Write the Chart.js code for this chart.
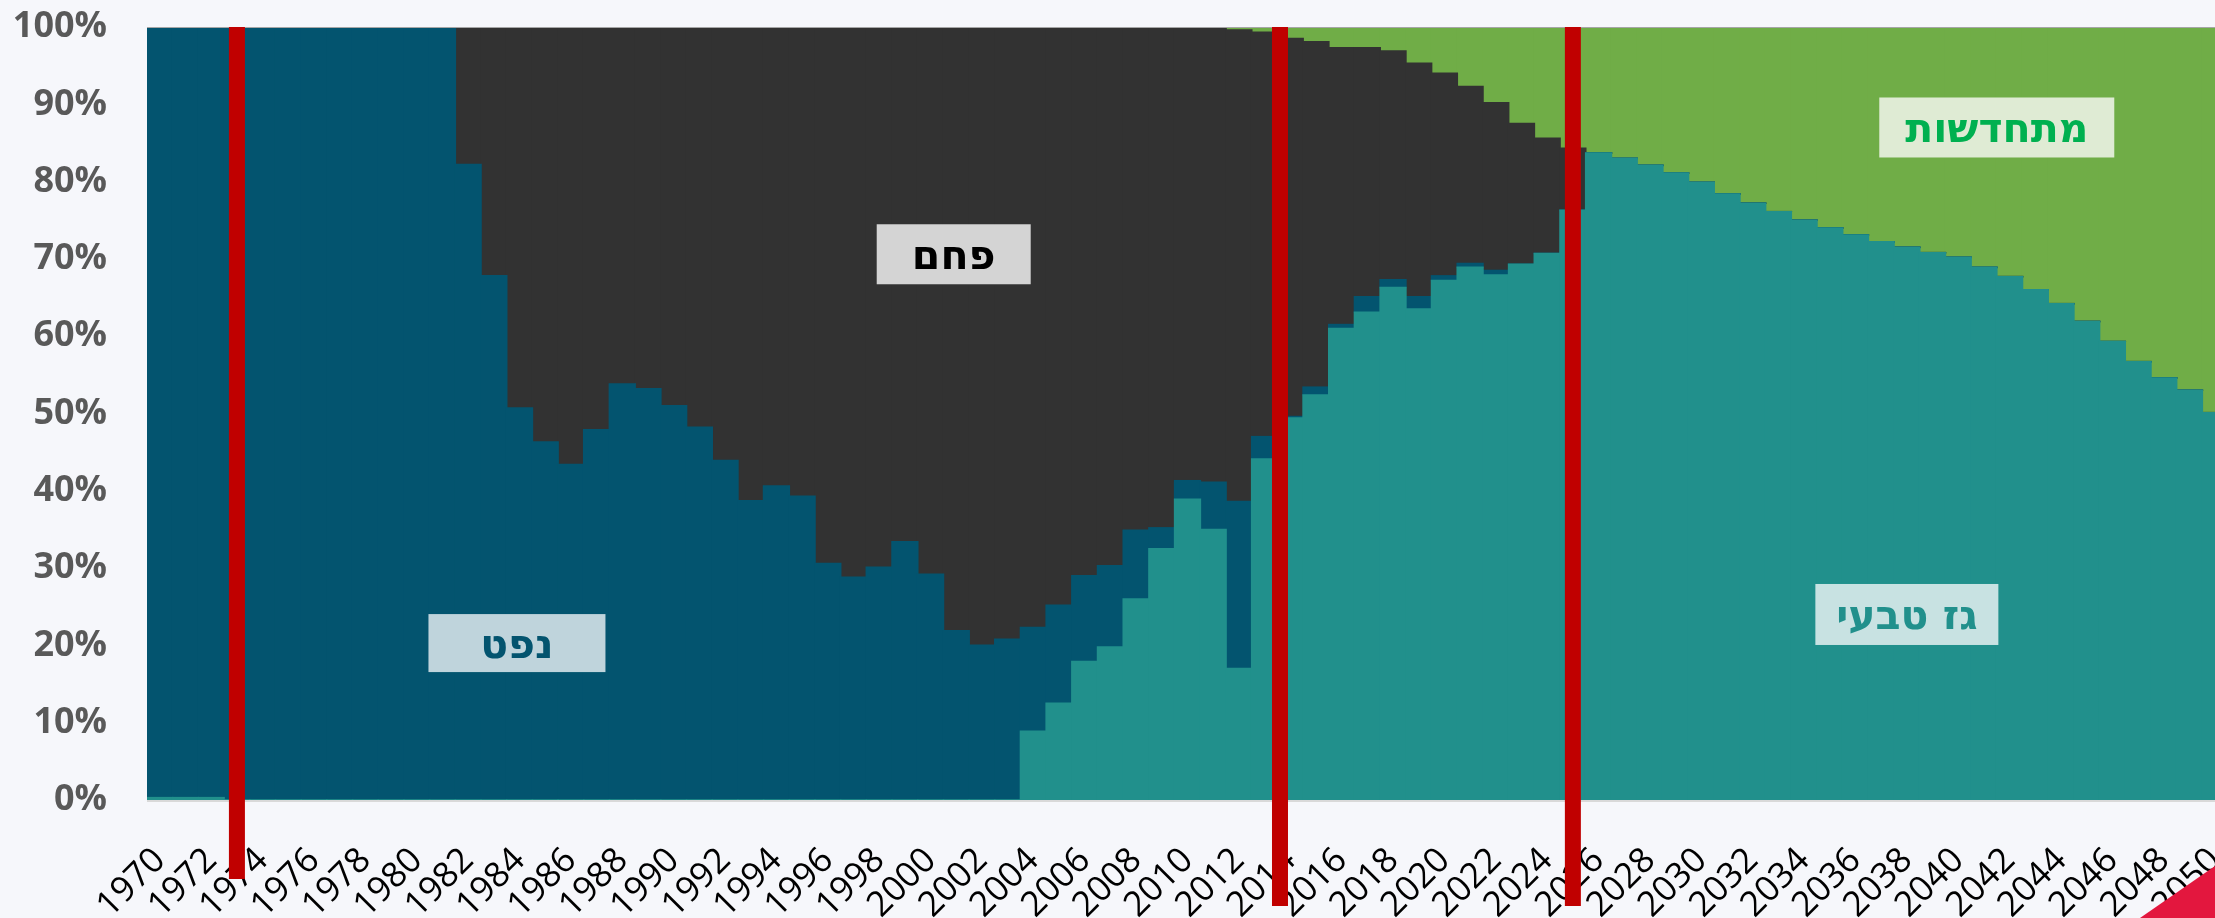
<!DOCTYPE html>
<html>
<head>
<meta charset="utf-8">
<script src="https://cdn.jsdelivr.net/npm/chart.js@4"></script>
<style>
  html, body { margin: 0; padding: 0; background: #f6f7fb; overflow: hidden; }
  #wrap { position: relative; width: 2228px; height: 918px; }
  #corner {
    position: absolute; left: 0; top: 0; width: 2215px; height: 918px; pointer-events: none;
    background: #e3173e;
    clip-path: polygon(2140px 918px, 2215px 866px, 2215px 918px);
  }
</style>
</head>
<body>
<div id="wrap"><canvas id="chart"></canvas></div>
<div id="corner"></div>
<script>
// years on the x axis
const years = [1970,1971,1972,1973,1974,1975,1976,1977,1978,1979,
  1980,1981,1982,1983,1984,1985,1986,1987,1988,1989,
  1990,1991,1992,1993,1994,1995,1996,1997,1998,1999,
  2000,2001,2002,2003,2004,2005,2006,2007,2008,2009,
  2010,2011,2012,2013,2014,2015,2016,2017,2018,2019,
  2020,2021,2022,2023,2024,2025,2026,2027,2028,2029,
  2030,2031,2032,2033,2034,2035,2036,2037,2038,2039,
  2040,2041,2042,2043,2044,2045,2046,2047,2048,2049,2050];

// share of electricity production (%)
const gas = [0.3,0.3,0.3,0,0,0,0,0,0,0,
  0,0,0,0,0,0,0,0,0,0,
  0,0,0,0,0,0,0,0,0,0,
  0,0,0,0,8.9,12.5,17.9,19.8,26.0,32.5,
  38.9,35.0,17.0,44.1,49.4,52.4,61.0,63.1,66.3,63.5,
  67.2,68.9,67.9,69.3,70.7,76.3,83.7,83.0,82.1,81.1,
  79.9,78.4,77.2,76.1,75.0,74.0,73.1,72.2,71.5,70.8,
  70.2,68.9,67.7,66.0,64.2,61.9,59.3,56.7,54.6,53.0,50.1];

const oil = [99.7,99.7,99.7,100,100,100,100,100,100,100,
  100,100,82.2,67.8,50.7,46.3,43.4,47.9,53.8,53.2,
  51.0,48.2,43.9,38.7,40.6,39.3,30.6,28.8,30.1,33.4,
  29.2,21.9,20.0,20.8,13.4,12.7,11.1,10.5,8.9,2.7,
  2.4,6.1,21.6,2.9,0.2,1.0,0.5,2.0,1.0,1.6,
  0.6,0.5,0.6,0,0,0,0,0,0,0,
  0,0,0,0,0,0,0,0,0,0,
  0,0,0,0,0,0,0,0,0,0,0];

const coal = [0,0,0,0,0,0,0,0,0,0,
  0,0,17.8,32.2,49.3,53.7,56.6,52.1,46.2,46.8,
  49.0,51.8,56.1,61.3,59.4,60.7,69.4,71.2,69.9,66.6,
  70.8,78.1,80.0,79.2,77.7,74.8,71.0,69.7,65.1,64.8,
  58.7,58.9,61.0,52.3,48.9,44.7,35.8,32.2,29.6,30.2,
  26.2,22.9,21.7,18.2,14.9,8.0,0,0,0,0,
  0,0,0,0,0,0,0,0,0,0,
  0,0,0,0,0,0,0,0,0,0,0];

const renewables = [0,0,0,0,0,0,0,0,0,0,
  0,0,0,0,0,0,0,0,0,0,
  0,0,0,0,0,0,0,0,0,0,
  0,0,0,0,0,0,0,0,0,0,
  0,0,0.4,0.7,1.5,1.9,2.7,2.7,3.1,4.7,
  6.0,7.7,9.8,12.5,14.4,15.7,16.3,17.0,17.9,18.9,
  20.1,21.6,22.8,23.9,25.0,26.0,26.9,27.8,28.5,29.2,
  29.8,31.1,32.3,34.0,35.8,38.1,40.7,43.3,45.4,47.0,49.9];

const yTicks = [0,10,20,30,40,50,60,70,80,90,100];

// red marker lines (year positions)
const markerYears = [1973, 2013.6, 2025];

// text boxes inside the chart, placed in data units
const notes = [
  { text: 'נפט', year: 1983.9, value: 20.3, w: 177, h: 58, fill: '#bfd4dc', color: '#03546f' },
  { text: 'פחם', year: 2000.9, value: 70.6, w: 154, h: 60, fill: '#d4d4d4', color: '#000000' },
  { text: 'מתחדשות', year: 2041.5, value: 87.0, w: 235, h: 60, fill: '#dfebd4', color: '#00b050' },
  { text: 'גז טבעי', year: 2038.0, value: 24.0, w: 183, h: 61, fill: '#c8e2e2', color: '#21908c' }
];

const idx = y => y - years[0];

const extras = {
  id: 'extras',
  afterDatasetsDraw(chart) {
    const { ctx, chartArea: a, scales: { x, y } } = chart;
    ctx.save();
    // frame lines
    ctx.fillStyle = '#a6a6a6';
    ctx.fillRect(a.left, a.top, a.right - a.left, 1);
    ctx.fillStyle = '#d9d9d9';
    ctx.fillRect(a.left, a.bottom, a.right - a.left, 2);
    // labels
    ctx.font = 'bold 41px "DejaVu Sans", "Liberation Sans", sans-serif';
    ctx.textAlign = 'center';
    ctx.textBaseline = 'middle';
    notes.forEach(n => {
      const cx = x.getPixelForValue(idx(n.year));
      const cy = y.getPixelForValue(n.value);
      ctx.fillStyle = n.fill;
      ctx.fillRect(cx - n.w / 2, cy - n.h / 2, n.w, n.h);
      ctx.fillStyle = n.color;
      ctx.fillText(n.text, cx, cy + 4);
    });
    ctx.restore();
  },
  afterDraw(chart) {
    const { ctx, chartArea: a, scales: { x } } = chart;
    ctx.save();
    ctx.fillStyle = '#c00000';
    markerYears.forEach((yr, i) => {
      const px = x.getPixelForValue(idx(yr));
      const bottom = a.bottom + (i === 0 ? 79 : 106);
      ctx.fillRect(px - 8, a.top, 16, bottom - a.top);
    });
    ctx.restore();
  }
};

const bar = (label, data, color) => ({
  label, data, backgroundColor: color, borderWidth: 0, inflateAmount: 0.8,
  barPercentage: 1.0, categoryPercentage: 1.0
});

new Chart(document.getElementById('chart'), {
  type: 'bar',
  data: {
    labels: years.map(String),
    datasets: [
      bar('גז טבעי', gas, '#21908c'),
      bar('נפט', oil, '#03546f'),
      bar('פחם', coal, '#323232'),
      bar('מתחדשות', renewables, '#70ad47')
    ]
  },
  options: {
    responsive: true,
    maintainAspectRatio: false,
    animation: false,
    layout: { padding: { top: 27, right: 0, left: 0, bottom: 0 } },
    plugins: { legend: { display: false }, tooltip: { enabled: false } },
    scales: {
      x: {
        stacked: true,
        grid: { display: false, drawTicks: false },
        border: { display: false },
        afterFit: s => { s.height = 118; s.paddingLeft = 0; s.paddingRight = 0; },
        ticks: {
          autoSkip: false,
          maxRotation: 45,
          minRotation: 45,
          padding: 40,
          color: '#000000',
          font: { family: '"Open Sans", sans-serif', size: 35 },
          callback: function (v) {
            const yr = years[v];
            return yr % 2 === 0 ? String(yr) : null;
          }
        }
      },
      y: {
        stacked: true,
        min: 0,
        max: 100,
        grid: { display: false, drawTicks: false },
        border: { display: false },
        afterFit: s => { s.width = 147; s.paddingTop = 0; s.paddingBottom = 0; },
        afterBuildTicks: s => { s.ticks = yTicks.map(v => ({ value: v })); },
        ticks: {
          padding: 40,
          color: '#595959',
          font: { family: '"Open Sans", sans-serif', size: 36, weight: 'bold' },
          callback: v => v + '%'
        }
      }
    }
  },
  plugins: [extras]
});
</script>
</body>
</html>
